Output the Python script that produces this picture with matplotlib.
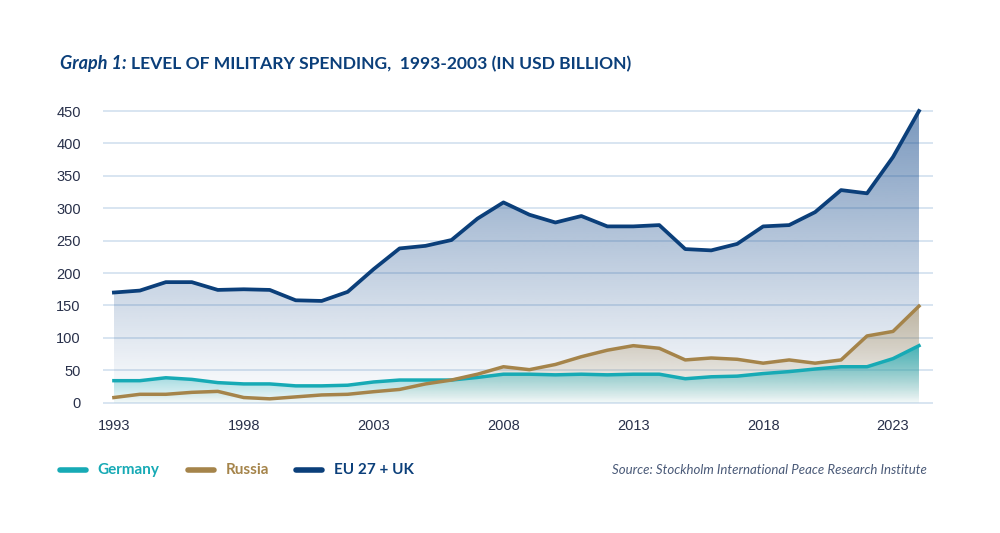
import numpy as np
import matplotlib
matplotlib.use("Agg")
import matplotlib.pyplot as plt
from matplotlib.colors import to_rgb
from matplotlib.lines import Line2D

years = list(range(1993, 2025))
eu_uk = [170, 173, 186, 186, 174, 175, 174, 158, 157, 171, 206, 238, 242, 251, 284, 309,
         290, 278, 288, 272, 272, 274, 237, 235, 245, 272, 274, 294, 328, 323, 379, 450]
russia = [8, 13, 13, 16, 17.5, 8, 6, 9, 12, 13, 17, 20.5, 29, 35, 44, 55.5,
          51, 59, 71, 81, 88, 84, 66, 69, 67, 61, 66, 61, 66, 103, 110, 149]
germany = [34, 34, 38.5, 36, 31, 29, 29, 26, 26, 27, 32, 35, 35, 35, 39, 44,
           44, 43, 44, 43, 44, 44, 37, 40, 41, 45, 48, 52, 55.5, 55.5, 68, 88]
yticks = [0, 50, 100, 150, 200, 250, 300, 350, 400, 450]
xticks = [1993, 1998, 2003, 2008, 2013, 2018, 2023]

C_EU = "#0b3f7a"
C_RU = "#a5844a"
C_DE = "#17aab5"
NAVY_TXT = "#0b3f7a"

fig = plt.figure(figsize=(10, 5.33), dpi=100)
ax = fig.add_axes([0.103, 0.2347, 0.830, 0.5692])

x = np.array(years, dtype=float)


def gradient_fill(ax, x, y, color, a_top, a_bot, ytop, zorder):
    y = np.asarray(y, dtype=float)
    poly = ax.fill_between(x, 0, y, facecolor="none", edgecolor="none")
    rgb = to_rgb(color)
    n = 256
    z = np.empty((n, 1, 4))
    z[:, :, :3] = rgb
    z[:, 0, 3] = np.linspace(a_bot, a_top, n)
    im = ax.imshow(z, aspect="auto", extent=[x.min(), x.max(), 0, ytop],
                   origin="lower", zorder=zorder, interpolation="bilinear")
    im.set_clip_path(poly.get_paths()[0], transform=ax.transData)
    return im


gradient_fill(ax, x, eu_uk, "#0d4488", 0.55, 0.0, max(eu_uk), 1)
gradient_fill(ax, x, russia, C_RU, 0.45, 0.02, max(russia), 2)
gradient_fill(ax, x, germany, C_DE, 0.75, 0.04, max(germany), 3)

ax.plot(x, germany, color=C_DE, lw=2.5, zorder=5, solid_joinstyle="round")
ax.plot(x, russia, color=C_RU, lw=2.5, zorder=6, solid_joinstyle="round")
ax.plot(x, eu_uk, color=C_EU, lw=2.7, zorder=7, solid_joinstyle="round")

ax.set_xlim(1992.58, 2024.54)
ax.set_ylim(-8, 460)
ax.set_yticks(yticks)
ax.set_xticks(xticks)
ax.grid(axis="y", color="#d8e5f1", lw=1.4, zorder=0)
ax.grid(axis="x", visible=False)
ax.set_axisbelow(True)
for s in ax.spines.values():
    s.set_visible(False)
ax.tick_params(axis="both", length=0, labelsize=10.5, labelcolor="#28304a")
ax.tick_params(axis="y", pad=16)
ax.tick_params(axis="x", pad=8)
for lab in ax.get_xticklabels() + ax.get_yticklabels():
    lab.set_fontfamily("Liberation Sans")

# Title
fig.text(0.060, 0.880, "Graph 1:", fontsize=13, fontweight="bold", style="italic",
         color=NAVY_TXT, family="Lato", va="center", ha="left")
fig.text(0.131, 0.880, "LEVEL OF MILITARY SPENDING,  1993-2003 (IN USD BILLION)",
         fontsize=12.6, fontweight="bold", color=NAVY_TXT, family="Lato",
         va="center", ha="left")

# Legend
ly = 1 - 470 / 533
items = [("Germany", C_DE, 0.060, 0.097), ("Russia", C_RU, 0.188, 0.226),
         ("EU 27 + UK", C_EU, 0.296, 0.334)]
for label, col, x0, tx in items:
    fig.add_artist(Line2D([x0, x0 + 0.026], [ly, ly], color=col, lw=4,
                          solid_capstyle="round", transform=fig.transFigure))
    fig.text(tx, ly, label, fontsize=11, fontweight="bold", color=col,
             family="Lato", va="center", ha="left")

fig.text(0.927, ly, "Source: Stockholm International Peace Research Institute",
         fontsize=9.5, style="italic", color="#4a5a78", family="Lato",
         va="center", ha="right")

fig.savefig("out.png", dpi=100)
